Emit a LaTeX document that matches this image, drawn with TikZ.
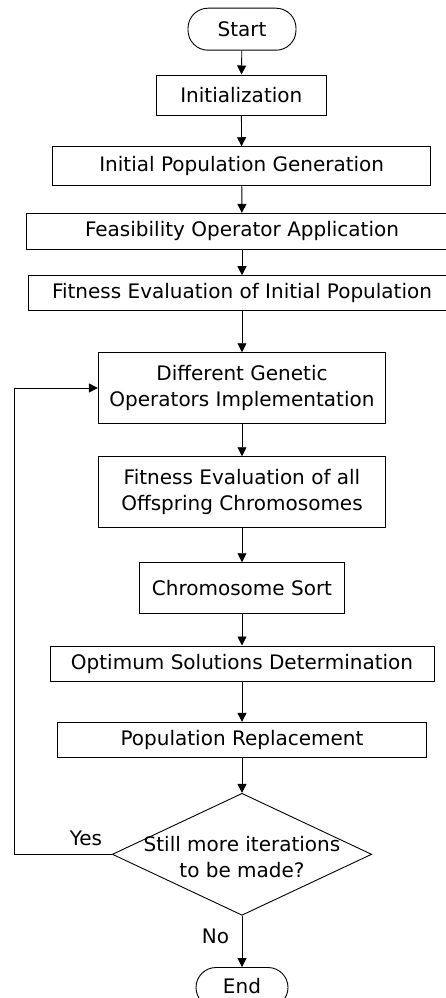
\documentclass[tikz,border=0pt]{standalone}
\usepackage{fontspec}
\setmainfont{DejaVu Sans}
\usetikzlibrary{arrows.meta,shapes.geometric}
\begin{document}
\begin{tikzpicture}[x=1pt,y=-1pt,
  font=\fontsize{20}{26}\selectfont,
  line width=0.9pt,
  box/.style={draw,rectangle,inner sep=0pt,align=center},
  term/.style={draw,rectangle,rounded corners=20pt,inner sep=0pt},
  dec/.style={draw,diamond,inner sep=0pt},
  arr/.style={-{Triangle[length=9pt,width=9pt]}},
  lbl/.style={inner sep=0pt,align=center}]
\useasboundingbox (0,0) rectangle (446,998);
\node[term,minimum width=108pt,minimum height=42pt] (start) at (242,29.2) {Start};
\node[box,minimum width=170.7pt,minimum height=40.7pt] (init) at (241.3,95.3) {Initialization};
\node[box,minimum width=378pt,minimum height=39pt] (ipg) at (241.7,166.2) {Initial Population Generation};
\node[box,minimum width=432pt,minimum height=36pt] (feas) at (242,231.3) {Feasibility Operator Application};
\node[box,minimum width=426.6pt,minimum height=34.3pt] (fiti) at (242,292.8) {Fitness Evaluation of Initial Population};
\node[box,minimum width=287.4pt,minimum height=70.6pt] (dgo) at (242,388) {Different Genetic\\Operators Implementation};
\node[box,minimum width=287.4pt,minimum height=70.6pt] (feo) at (242,492) {Fitness Evaluation of all\\Offspring Chromosomes};
\node[box,minimum width=205pt,minimum height=50.6pt] (sort) at (242,588) {Chromosome Sort};
\node[box,minimum width=384pt,minimum height=35.7pt] (opt) at (242,663.8) {Optimum Solutions Determination};
\node[box,minimum width=368.3pt,minimum height=35.4pt] (pop) at (242,740) {Population Replacement};
\node[dec,minimum width=259.4pt,minimum height=122pt] (iter) at (242,854.3) {};
\node[lbl] (itertxt) at (242,857) {Still more iterations\\to be made?};
\node[term,minimum width=92pt,minimum height=40pt] (end) at (242,987.5) {};
\node[lbl,anchor=base] (endtxt) at (242,993.5) {End};
\node[lbl] (yes) at (86,838) {Yes};
\node[lbl] (no) at (215.5,936.7) {No};
\coordinate (lb) at (14.3,854.3);
\coordinate (lt) at (14.3,388);
\draw[arr] (start) -- (init);
\draw[arr] (init) -- (ipg);
\draw[arr] (ipg) -- (feas);
\draw[arr] (feas) -- (fiti);
\draw[arr] (fiti) -- (dgo);
\draw[arr] (dgo) -- (feo);
\draw[arr] (feo) -- (sort);
\draw[arr] (sort) -- (opt);
\draw[arr] (opt) -- (pop);
\draw[arr] (pop) -- (iter.north);
\draw[arr] (iter.south) -- (end);
\draw[arr] (iter.west) -- (lb) -- (lt) -- (dgo.west);
\end{tikzpicture}
\end{document}
